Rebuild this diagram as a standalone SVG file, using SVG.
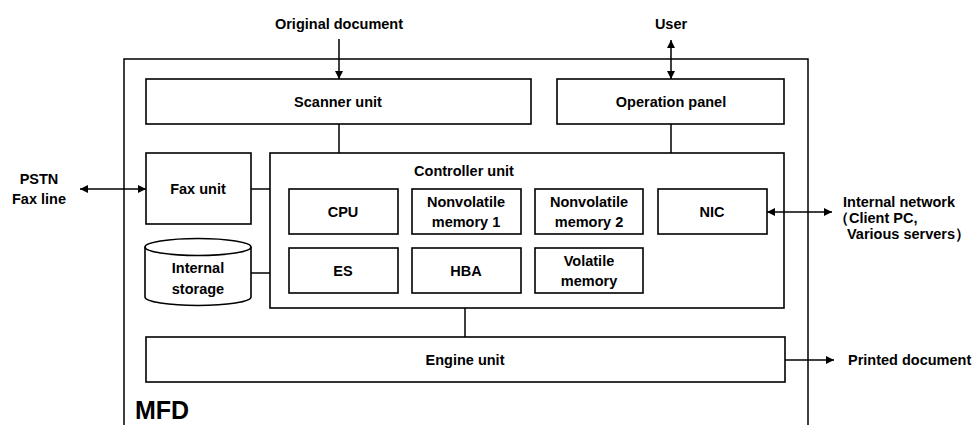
<svg xmlns="http://www.w3.org/2000/svg" width="979" height="425" viewBox="0 0 979 425">
<style>
.box{fill:#fff;stroke:#000;stroke-width:1.6}
.ln{fill:none;stroke:#000;stroke-width:1.5}
text{font-family:"Liberation Sans",Arial,sans-serif;font-weight:bold;font-size:14.5px;fill:#000;text-anchor:middle;dominant-baseline:central}
.l{text-anchor:start}
</style>
<defs>
<marker id="ah" viewBox="0 0 10 10" refX="10" refY="5" markerWidth="8" markerHeight="8" markerUnits="userSpaceOnUse" orient="auto-start-reverse">
<path d="M0,0 L10,5 L0,10 Z" fill="#000"/>
</marker>
</defs>
<g id="mfd">
<path class="ln" d="M124,425 V59 H808 V425"/>
<text class="l" x="135" y="410" style="font-size:25px">MFD</text>
</g>
<g id="labels">
<text x="339" y="24">Original document</text>
<text x="671" y="24">User</text>
<text x="39" y="179">PSTN</text>
<text x="39" y="199">Fax line</text>
<text class="l" x="843" y="202">Internal network</text>
<text class="l" x="834" y="218">（Client PC,</text>
<text class="l" x="847" y="234">Various servers）</text>
<text class="l" x="848" y="360">Printed document</text>
</g>
<g id="scanner">
<rect class="box" x="146" y="79" width="385" height="45"/>
<text x="338" y="102">Scanner unit</text>
</g>
<g id="operation-panel">
<rect class="box" x="557" y="79" width="227" height="45"/>
<text x="671" y="102">Operation panel</text>
</g>
<g id="fax">
<rect class="box" x="146" y="153" width="105" height="71"/>
<text x="198" y="189">Fax unit</text>
</g>
<g id="storage">
<path class="box" d="M145,247 V297 A53,8.5 0 0 0 251,297 V247"/>
<ellipse class="box" cx="198" cy="247" rx="53" ry="8.5"/>
<text x="198" y="268">Internal</text>
<text x="198" y="289">storage</text>
</g>
<g id="controller">
<rect class="box" x="270" y="153" width="514" height="155"/>
<text x="464" y="171">Controller unit</text>
</g>
<g id="cpu">
<rect class="box" x="289" y="189" width="109" height="45"/>
<text x="343" y="212">CPU</text>
</g>
<g id="nvm1">
<rect class="box" x="412" y="189" width="109" height="45"/>
<text x="466" y="202">Nonvolatile</text>
<text x="466" y="222">memory 1</text>
</g>
<g id="nvm2">
<rect class="box" x="535" y="189" width="108" height="45"/>
<text x="589" y="202">Nonvolatile</text>
<text x="589" y="222">memory 2</text>
</g>
<g id="nic">
<rect class="box" x="658" y="189" width="109" height="45"/>
<text x="712" y="212">NIC</text>
</g>
<g id="es">
<rect class="box" x="289" y="248" width="109" height="45"/>
<text x="343" y="271">ES</text>
</g>
<g id="hba">
<rect class="box" x="412" y="248" width="109" height="45"/>
<text x="466" y="271">HBA</text>
</g>
<g id="vm">
<rect class="box" x="535" y="248" width="108" height="45"/>
<text x="589" y="261">Volatile</text>
<text x="589" y="281">memory</text>
</g>
<g id="engine">
<rect class="box" x="146" y="337" width="639" height="45"/>
<text x="465" y="360">Engine unit</text>
</g>
<g id="connectors">
<line class="ln" x1="339" y1="39" x2="339" y2="79" marker-end="url(#ah)"/>
<line class="ln" x1="671" y1="40" x2="671" y2="79" marker-start="url(#ah)" marker-end="url(#ah)"/>
<line class="ln" x1="339" y1="124" x2="339" y2="153"/>
<line class="ln" x1="671" y1="124" x2="671" y2="153"/>
<line class="ln" x1="251" y1="189" x2="270" y2="189"/>
<line class="ln" x1="251" y1="273" x2="270" y2="273"/>
<line class="ln" x1="80" y1="189" x2="146" y2="189" marker-start="url(#ah)" marker-end="url(#ah)"/>
<line class="ln" x1="767" y1="212" x2="832" y2="212" marker-start="url(#ah)" marker-end="url(#ah)"/>
<line class="ln" x1="465" y1="308" x2="465" y2="337"/>
<line class="ln" x1="785" y1="360" x2="834" y2="360" marker-end="url(#ah)"/>
</g>
</svg>
